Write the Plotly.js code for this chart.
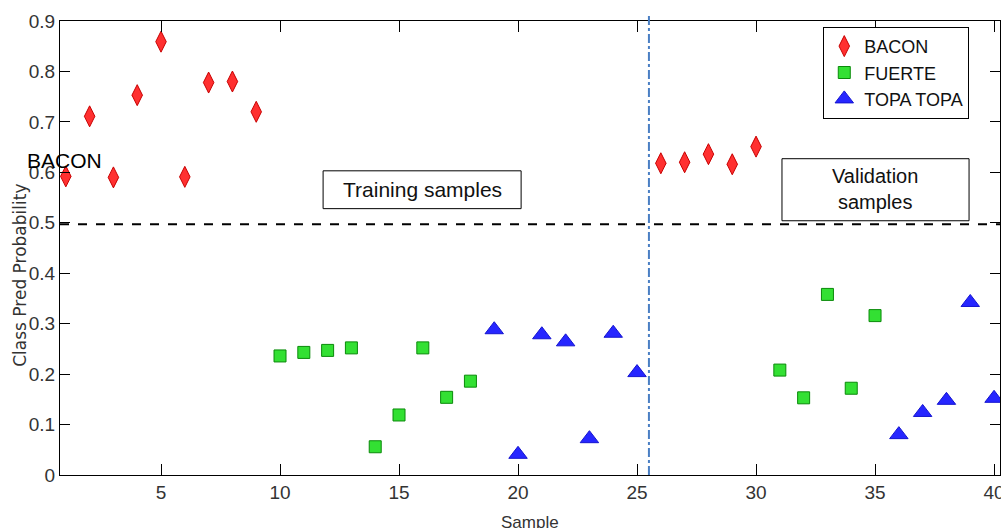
<!DOCTYPE html>
<html>
<head>
<meta charset="utf-8">
<script src="https://cdn.plot.ly/plotly-3.0.1.min.js"></script>
<style>html,body{margin:0;padding:0;background:#fff;}#chart{width:1001px;height:528px;}</style>
</head>
<body>
<div id="chart"></div>
<script>
// ---- data ----
const baconX  = [1, 2, 3, 4, 5, 6, 7, 8, 9, 26, 27, 28, 29, 30];
const baconY  = [0.592, 0.711, 0.590, 0.753, 0.859, 0.591, 0.778, 0.780, 0.720, 0.618, 0.620, 0.636, 0.616, 0.651];
const fuerteX = [10, 11, 12, 13, 14, 15, 16, 17, 18, 31, 32, 33, 34, 35];
const fuerteY = [0.236, 0.243, 0.247, 0.252, 0.056, 0.119, 0.252, 0.154, 0.186, 0.208, 0.153, 0.358, 0.172, 0.316];
const topaX   = [19, 20, 21, 22, 23, 24, 25, 36, 37, 38, 39, 40];
const topaY   = [0.288, 0.041, 0.278, 0.264, 0.072, 0.281, 0.203, 0.080, 0.124, 0.148, 0.342, 0.152];
const seriesNames = ["BACON", "FUERTE", "TOPA TOPA"];
const xTicks = [5, 10, 15, 20, 25, 30, 35, 40];
const yTicks = [0, 0.1, 0.2, 0.3, 0.4, 0.5, 0.6, 0.7, 0.8, 0.9];
const threshold = 0.497;
const splitX = 25.5;

const tickFont = {family: "'Liberation Sans Narrow', 'Liberation Sans', Arial, sans-serif", size: 19, color: "#333"};

const traces = [
  {x: baconX, y: baconY, name: seriesNames[0], type: "scatter", mode: "markers",
   marker: {symbol: "diamond-tall", size: 15, color: "#ff3030", line: {color: "#c80000", width: 1}}},
  {x: fuerteX, y: fuerteY, name: seriesNames[1], type: "scatter", mode: "markers",
   marker: {symbol: "square", size: 12, color: "#33e033", line: {color: "#0a8a0a", width: 1}}},
  {x: topaX, y: topaY, name: seriesNames[2], type: "scatter", mode: "markers",
   marker: {symbol: "triangle-up", size: 16, color: "#2626ff", line: {color: "#1414d0", width: 1}}}
];

const layout = {
  width: 1001, height: 528,
  margin: {l: 60, r: 1, t: 21, b: 53},
  paper_bgcolor: "#fff", plot_bgcolor: "#fff",
  showlegend: true,
  legend: {x: 0.812, y: 0.987, xanchor: "left", yanchor: "top",
           bordercolor: "#000", borderwidth: 1, bgcolor: "#fff",
           entrywidth: 130, entrywidthmode: "pixels",
           font: {family: "'Liberation Sans', Arial, sans-serif", size: 18, color: "#111"}},
  xaxis: {range: [0.756, 40.25], tickvals: xTicks, ticks: "inside", ticklen: 11, tickcolor: "#000",
          showline: true, linecolor: "#000", linewidth: 1, mirror: "ticks", showgrid: false, zeroline: false,
          ticklabeloverflow: "allow", tickfont: tickFont},
  yaxis: {range: [0, 0.9], tickvals: yTicks, ticks: "inside", ticklen: 10, tickcolor: "#000",
          showline: true, linecolor: "#000", linewidth: 1, mirror: "ticks", showgrid: false, zeroline: false,
          tickfont: tickFont},
  shapes: [
    {type: "line", xref: "paper", yref: "y", x0: 0, x1: 1, y0: threshold, y1: threshold,
     line: {color: "#000", width: 2, dash: "dash"}},
    {type: "line", xref: "x", yref: "paper", x0: splitX, x1: splitX, y0: 0, y1: 1.013,
     line: {color: "#4a7fc4", width: 2, dash: "dashdot"}},
    {type: "rect", xref: "x", yref: "y", x0: 11.81, x1: 20.13, y0: 0.528, y1: 0.603,
     line: {color: "#000", width: 1}, fillcolor: "#fff", layer: "below"},
    {type: "rect", xref: "x", yref: "y", x0: 31.09, x1: 38.95, y0: 0.504, y1: 0.627,
     line: {color: "#000", width: 1}, fillcolor: "#fff", layer: "below"}
  ],
  annotations: [
    {text: "Training samples", xref: "x", yref: "y", x: 15.97, y: 0.566, showarrow: false,
     font: {family: "'Liberation Sans', Arial, sans-serif", size: 21, color: "#111"}},
    {text: "Validation<br>samples", xref: "x", yref: "y", x: 35.0, y: 0.566, showarrow: false,
     font: {family: "'Liberation Sans', Arial, sans-serif", size: 20, color: "#111"}},
    {text: "BACON", xref: "paper", yref: "paper", x: -0.037, y: 0.692, xanchor: "left", yanchor: "middle",
     showarrow: false, font: {family: "'Liberation Sans', Arial, sans-serif", size: 21, color: "#000"}},
    {text: "Class Pred Probability", xref: "paper", yref: "paper", x: -0.042, y: 0.44, textangle: -90,
     xanchor: "center", yanchor: "middle", showarrow: false,
     font: {family: "'DejaVu Sans', sans-serif", size: 17, color: "#333"}},
    {text: "Sample", xref: "paper", yref: "paper", x: 0.5, y: -0.079, xanchor: "center", yanchor: "top",
     showarrow: false, font: {family: "'Liberation Sans', Arial, sans-serif", size: 17, color: "#333"}}
  ]
};

Plotly.newPlot("chart", traces, layout, {displayModeBar: false, staticPlot: true});
</script>
</body>
</html>
